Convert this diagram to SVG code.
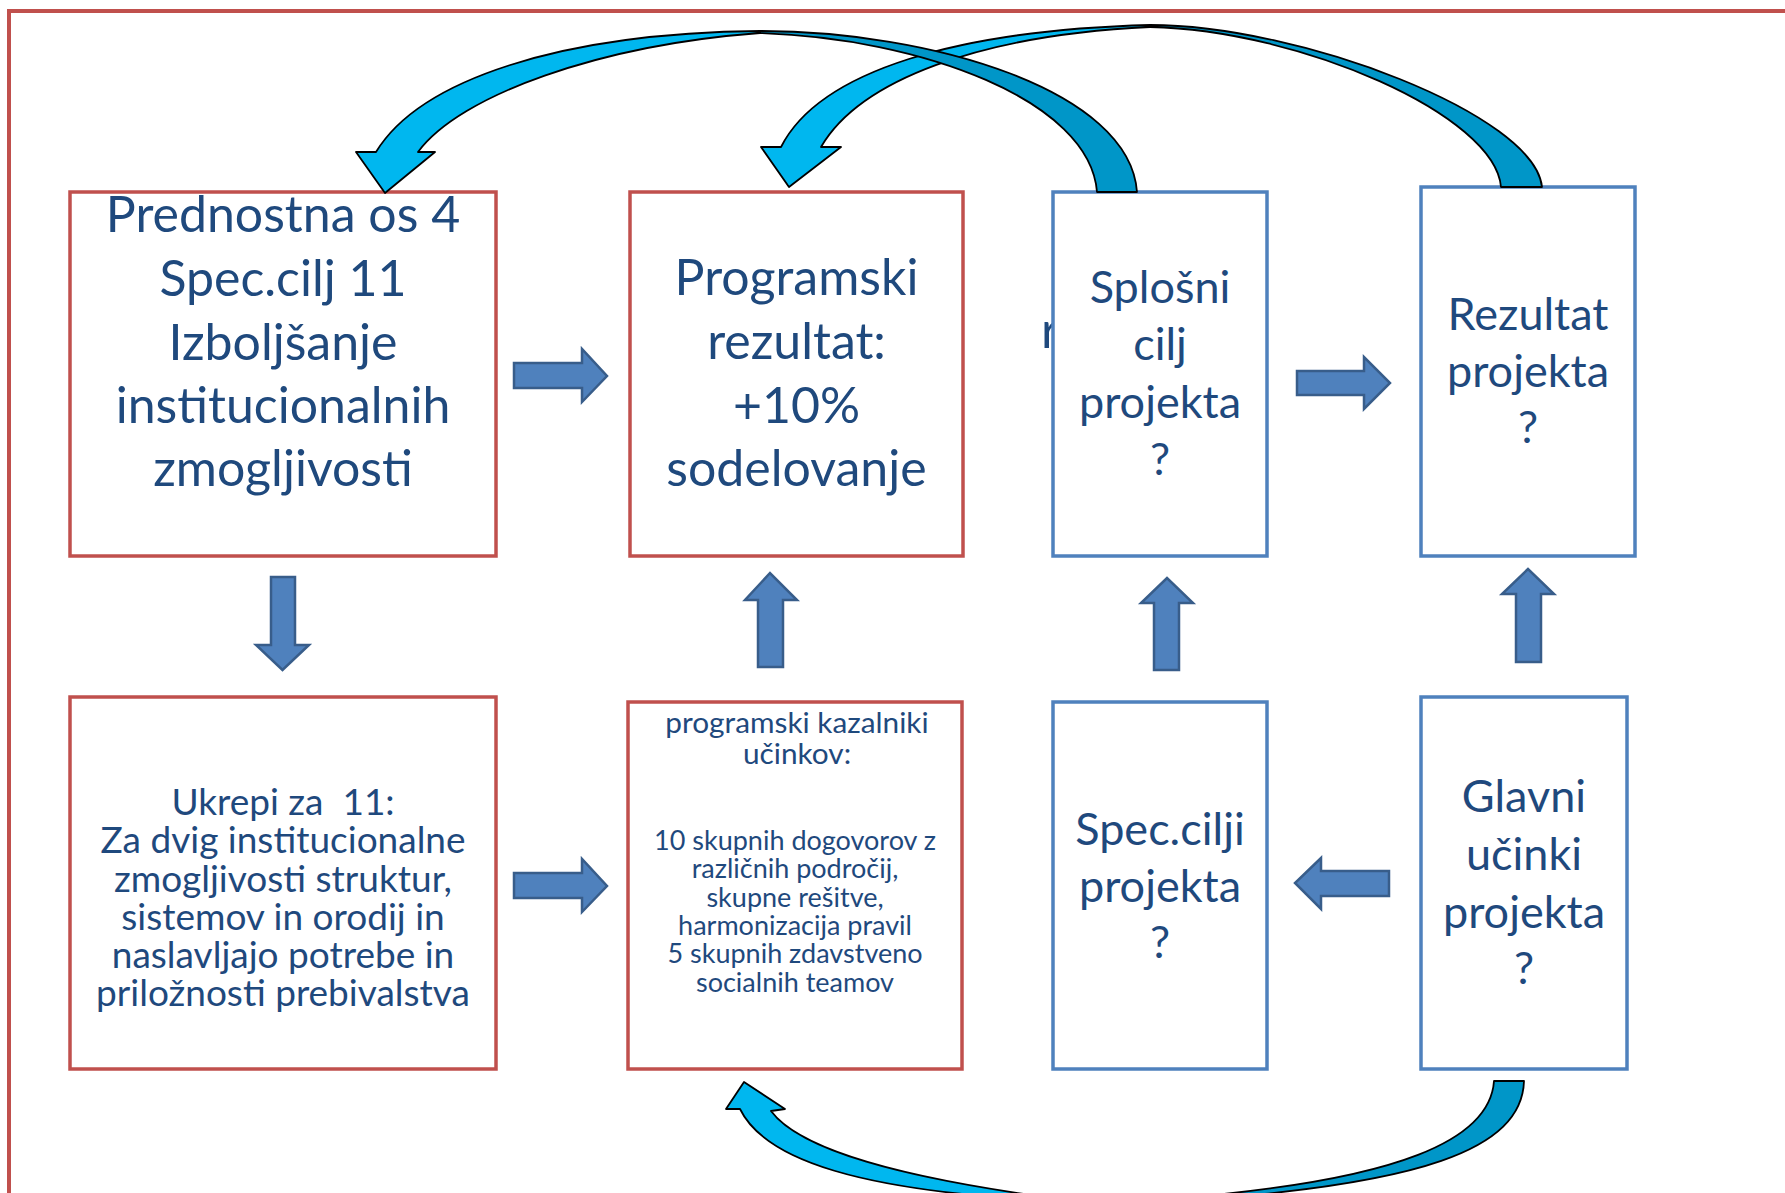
<svg xmlns="http://www.w3.org/2000/svg" width="1785" height="1193" viewBox="0 0 1785 1193">
<style>
.bg{fill:#ffffff}
.frame{fill:none;stroke:#C0504D;stroke-width:4}
.rbox{fill:#ffffff;stroke:#C0504D;stroke-width:3.5}
.bbox{fill:#ffffff;stroke:#4F81BD;stroke-width:3.5}
.t{font-family:Lato,"Open Sans","Liberation Sans",sans-serif;fill:#1F497D;text-anchor:middle}
.big{font-size:50px}
.mid{font-size:45px}
.sm{font-size:37px}
.xs{font-size:29.8px}
.xxs{font-size:27px}
.blk{fill:#4F81BD;stroke:#385D8A;stroke-width:2.5;stroke-linejoin:miter}
.lt{fill:#00B7EF;stroke:#000000;stroke-width:1.8;stroke-linejoin:round}
.dk{fill:#0096C8;stroke:#000000;stroke-width:1.8;stroke-linejoin:round}
</style>
<rect class="bg" x="0" y="0" width="1785" height="1193"/>
<rect class="frame" x="9" y="11" width="1800" height="1220"/>

<text class="t" style="font-size:50px;text-anchor:start" x="1041" y="348">r</text>

<g id="node-prednostna">
<rect class="rbox" x="70" y="192" width="426" height="364"/>
<text class="t big"><tspan x="283" y="232">Prednostna os 4</tspan><tspan x="283" y="296">Spec.cilj 11</tspan><tspan x="283" y="360">Izboljšanje</tspan><tspan x="283" y="423">institucionalnih</tspan><tspan x="283" y="486">zmogljivosti</tspan></text>
</g>

<g id="node-programski-rezultat">
<rect class="rbox" x="630" y="192" width="333" height="364"/>
<text class="t big"><tspan x="796.5" y="295">Programski</tspan><tspan x="796.5" y="359">rezultat:</tspan><tspan x="796.5" y="423">+10%</tspan><tspan x="796.5" y="486">sodelovanje</tspan></text>
</g>

<g id="node-splosni-cilj">
<rect class="bbox" x="1053" y="192" width="214" height="364"/>
<text class="t mid"><tspan x="1160" y="303">Splošni</tspan><tspan x="1160" y="360">cilj</tspan><tspan x="1160" y="418">projekta</tspan><tspan x="1160" y="475">?</tspan></text>
</g>

<g id="node-rezultat-projekta">
<rect class="bbox" x="1421" y="187" width="214" height="369"/>
<text class="t mid"><tspan x="1528" y="330">Rezultat</tspan><tspan x="1528" y="387">projekta</tspan><tspan x="1528" y="443">?</tspan></text>
</g>

<g id="node-ukrepi">
<rect class="rbox" x="70" y="697" width="426" height="372"/>
<text class="t sm"><tspan x="283" y="815" style="white-space:pre">Ukrepi za  11:</tspan><tspan x="283" y="853">Za dvig institucionalne</tspan><tspan x="283" y="892">zmogljivosti struktur,</tspan><tspan x="283" y="930">sistemov in orodij in</tspan><tspan x="283" y="968">naslavljajo potrebe in</tspan><tspan x="283" y="1006">priložnosti prebivalstva</tspan></text>
</g>

<g id="node-kazalniki">
<rect class="rbox" x="628" y="702" width="334" height="367"/>
<text class="t xs"><tspan x="797" y="733">programski kazalniki</tspan><tspan x="797" y="764">učinkov:</tspan></text>
<text class="t xxs"><tspan x="795" y="850">10 skupnih dogovorov z</tspan><tspan x="795" y="878">različnih področij,</tspan><tspan x="795" y="907">skupne rešitve,</tspan><tspan x="795" y="935">harmonizacija pravil</tspan><tspan x="795" y="963">5 skupnih zdavstveno</tspan><tspan x="795" y="992">socialnih teamov</tspan></text>
</g>

<g id="node-spec-cilji">
<rect class="bbox" x="1053" y="702" width="214" height="367"/>
<text class="t mid"><tspan x="1160" y="845">Spec.cilji</tspan><tspan x="1160" y="902">projekta</tspan><tspan x="1160" y="958">?</tspan></text>
</g>

<g id="node-glavni-ucinki">
<rect class="bbox" x="1421" y="697" width="206" height="372"/>
<text class="t mid"><tspan x="1524" y="812">Glavni</tspan><tspan x="1524" y="870">učinki</tspan><tspan x="1524" y="928">projekta</tspan><tspan x="1524" y="984">?</tspan></text>
</g>

<g id="connectors">
<path class="blk" d="M514,363 L582,363 L582,349 L607,376 L582,402 L582,388 L514,388 Z"/>
<path class="blk" d="M514,873 L582,873 L582,859 L607,886 L582,912 L582,898 L514,898 Z"/>
<path class="blk" d="M1297,371 L1364,371 L1364,357 L1390,383 L1364,409 L1364,395 L1297,395 Z"/>
<path class="blk" d="M1389,871 L1321,871 L1321,858 L1295,883 L1321,909 L1321,896 L1389,896 Z"/>
<path class="blk" d="M271,577 L295,577 L295,645 L309,645 L282.5,670 L256,645 L271,645 Z"/>
<path class="blk" d="M758,667 L783,667 L783,600 L797,600 L770,573 L745,600 L758,600 Z"/>
<path class="blk" d="M1154,670 L1179,670 L1179,603 L1193,603 L1167,578 L1141,603 L1154,603 Z"/>
<path class="blk" d="M1516,662 L1541,662 L1541,594 L1554,594 L1528,569 L1502,594 L1516,594 Z"/>

<path class="lt" d="M781,147 C820,70 960,30 1150,25 L1150,27 C980,35 860,80 821,147 L841,147 L789,187 L761,147 Z"/>
<path class="dk" d="M1150,25 C1300,25 1535,115 1542,187 L1501,187 C1495,115 1300,30 1150,27 Z"/>

<path class="lt" d="M376,152 C420,80 560,33 760,31 L760,33 C600,45 460,95 418,152 L435,152 L385,193 L356,152 Z"/>
<path class="dk" d="M760,31 C930,31 1130,90 1137,192 L1097,192 C1090,100 920,38 760,33 Z"/>

<path class="lt" d="M740,1109 C765,1160 860,1192 1060,1201 L1060,1199 C900,1178 800,1150 771,1111 L785,1109 L744,1082 L726,1109 Z"/>
<path class="dk" d="M1524,1081 C1522,1150 1420,1185 1180,1201 L1180,1198 C1400,1180 1490,1140 1494,1081 Z"/>
</g>
</svg>
